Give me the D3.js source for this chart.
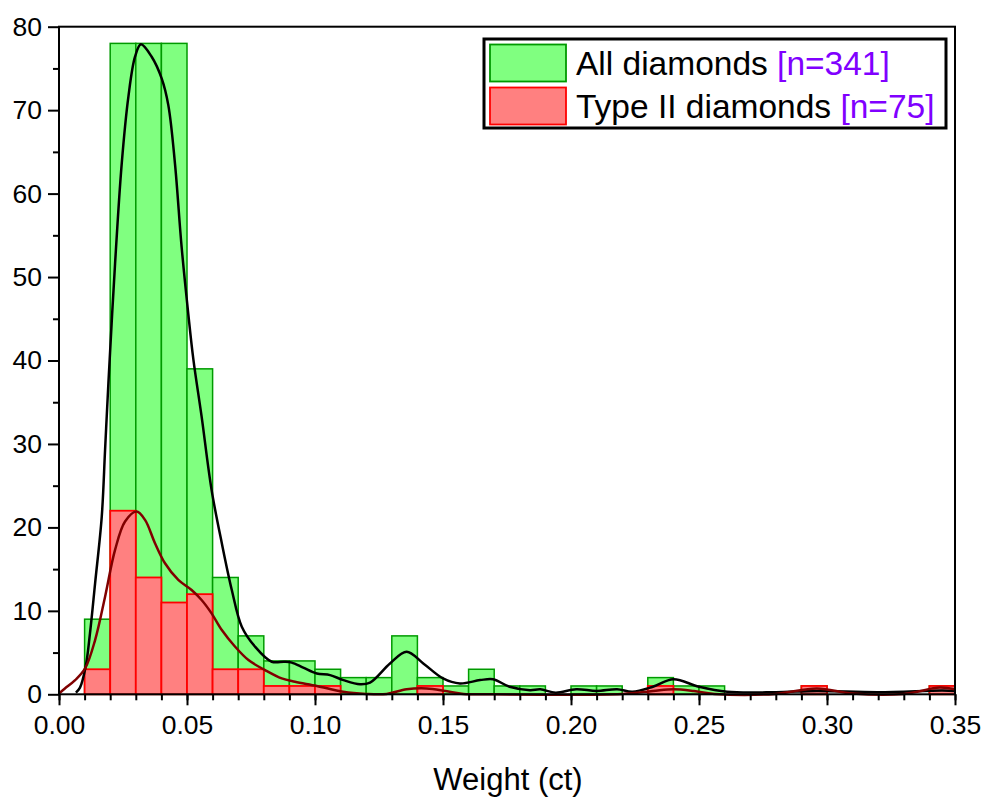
<!DOCTYPE html>
<html>
<head>
<meta charset="utf-8">
<script src="https://cdn.jsdelivr.net/npm/d3@7"></script>
<style>
  html, body { margin: 0; padding: 0; background: #fff; }
  svg { display: block; }
  text { font-family: "Liberation Sans", Arial, sans-serif; }
</style>
</head>
<body>
<svg id="chart" width="987" height="798"></svg>
<script>
// Histogram bins: each bin is [start, start + binWidth]
const binWidth = 0.01;
const binStarts = d3.range(0, 35).map(i => +(i * binWidth).toFixed(2));

// Counts per bin
const allCounts = [0, 9, 78, 78, 78, 39, 14, 7, 4, 4, 3, 2, 2, 7, 2, 1, 3, 1, 1, 0,
                   1, 1, 0, 2, 1, 1, 0, 0, 0, 1, 0, 0, 0, 0, 1];
const typeIICounts = [0, 3, 22, 14, 11, 12, 3, 3, 1, 1, 1, 0, 0, 0, 1, 0, 0, 0, 0, 0,
                      0, 0, 0, 1, 0, 0, 0, 0, 0, 1, 0, 0, 0, 0, 1];

// Smoothed density outlines (scaled to counts)
const allCurveX = [0.0066, 0.0082, 0.0104, 0.0121, 0.0141, 0.0167, 0.0180, 0.0193, 0.0219,
                   0.0245, 0.0271, 0.0297, 0.0320, 0.0362, 0.0401, 0.0427, 0.0453, 0.0479, 0.0505,
                   0.0525, 0.0557, 0.0596, 0.0636, 0.0675, 0.0714, 0.0766, 0.0831, 0.0880, 0.0909,
                   0.0954, 0.1007, 0.1059, 0.1111, 0.1176, 0.1215, 0.1293, 0.1358, 0.1423, 0.1500,
                   0.1566, 0.1645, 0.1696, 0.1760, 0.1840, 0.1880, 0.1940, 0.2020, 0.2100, 0.2180,
                   0.2240, 0.2320, 0.2400, 0.2500, 0.2610, 0.2800, 0.2960, 0.3200, 0.3450, 0.3500];
const allCurveY = [0.2, 0.8, 3.3, 7.3, 13.3, 21.3, 29.3, 37.3, 51.6,
                   63.6, 71.6, 76.4, 77.9, 76.4, 73.8, 70.6, 63.6, 53.6, 45.6,
                   40.1, 33.3, 24.5, 18.1, 12.5, 8.1, 5.7, 3.9, 3.9, 3.8,
                   3.2, 2.5, 2.3, 1.7, 1.2, 1.4, 3.7, 5.1, 3.7, 1.9,
                   1.3, 1.7, 1.8, 0.9, 0.5, 0.6, 0.2, 0.6, 0.4, 0.6,
                   0.3, 0.9, 1.8, 0.9, 0.3, 0.25, 0.4, 0.25, 0.45, 0.4];

const typeIICurveX = [0.0000, 0.0023, 0.0063, 0.0102, 0.0141, 0.0180, 0.0219, 0.0258, 0.0303, 0.0336,
                      0.0375, 0.0414, 0.0466, 0.0518, 0.0557, 0.0596, 0.0636, 0.0688, 0.0740, 0.0805,
                      0.0870, 0.0922, 0.1007, 0.1110, 0.1200, 0.1280, 0.1358, 0.1436, 0.1510, 0.1580,
                      0.1700, 0.2200, 0.2320, 0.2400, 0.2480, 0.2560, 0.2800, 0.2960, 0.3100, 0.3300,
                      0.3440, 0.3500];
const typeIICurveY = [0.1, 0.7, 1.7, 3.1, 6.5, 11.7, 17.3, 20.7, 21.9, 20.9,
                      18.1, 15.7, 13.7, 12.5, 11.3, 9.7, 7.7, 5.7, 4.1, 2.9,
                      1.9, 1.5, 1.0, 0.3, 0.05, 0.05, 0.6, 0.7, 0.4, 0.05,
                      0.0, 0.05, 0.4, 0.6, 0.4, 0.05, 0.05, 0.7, 0.1, 0.05,
                      0.8, 0.6];

// Axis ticks
const xTicks = [0, 0.05, 0.10, 0.15, 0.20, 0.25, 0.30, 0.35];
const xMinorTicks = d3.range(0, 36).map(i => +(i * 0.01).toFixed(2));
const yTicks = [0, 10, 20, 30, 40, 50, 60, 70, 80];
const yMinorTicks = [5, 15, 25, 35, 45, 55, 65, 75];

// Legend entries
const legendNames = ["All diamonds", "Type II diamonds"];
const legendCounts = ["[n=341]", "[n=75]"];

const svg = d3.select("#chart");
const plotLeft = 59, plotRight = 955, plotTop = 26.7, plotBottom = 694.3;

const x = d3.scaleLinear().domain([0, 0.35]).range([plotLeft, plotRight]);
const y = d3.scaleLinear().domain([0, 80]).range([plotBottom, plotTop]);

svg.append("rect").attr("width", 987).attr("height", 798).attr("fill", "#fff");

function drawBars(counts, fill, stroke, sw) {
  const data = binStarts.map((s, i) => ({ s, c: counts[i] })).filter(d => d.c > 0);
  svg.append("g").selectAll("rect").data(data).join("rect")
    .attr("x", d => x(d.s))
    .attr("y", d => y(d.c))
    .attr("width", d => x(d.s + binWidth) - x(d.s))
    .attr("height", d => y(0) - y(d.c))
    .attr("fill", fill)
    .attr("stroke", stroke)
    .attr("stroke-width", sw);
}
drawBars(allCounts, "#80ff80", "#009a00", 1.5);
drawBars(typeIICounts, "#ff8080", "#ff0000", 1.8);

const line = d3.line().x(d => x(d[0])).y(d => y(d[1])).curve(d3.curveCatmullRom.alpha(0.5));
svg.append("path")
  .attr("d", line(allCurveX.map((v, i) => [v, allCurveY[i]])))
  .attr("fill", "none").attr("stroke", "#000").attr("stroke-width", 2.5);
svg.append("path")
  .attr("d", line(typeIICurveX.map((v, i) => [v, typeIICurveY[i]])))
  .attr("fill", "none").attr("stroke", "#800000").attr("stroke-width", 2.5);

// Axes
const fmtX = d3.format(".2f");
const gx = svg.append("g").attr("transform", `translate(0,${plotBottom})`);
gx.call(d3.axisBottom(x).tickValues(xMinorTicks).tickSize(6).tickFormat(""));
gx.append("g").call(d3.axisBottom(x).tickValues(xTicks).tickSize(11).tickPadding(10).tickFormat(fmtX));

const gy = svg.append("g").attr("transform", `translate(${plotLeft},0)`);
gy.call(d3.axisLeft(y).tickValues(yMinorTicks).tickSize(6).tickFormat(""));
gy.append("g").call(d3.axisLeft(y).tickValues(yTicks).tickSize(11).tickPadding(6));

svg.selectAll(".domain").remove();
svg.selectAll(".tick line").attr("stroke", "#000").attr("stroke-width", 2);
svg.selectAll(".tick text").attr("font-size", 26.5).attr("fill", "#000")
  .attr("font-family", '"Liberation Sans", Arial, sans-serif');

// Frame
svg.append("rect")
  .attr("x", plotLeft).attr("y", plotTop)
  .attr("width", plotRight - plotLeft).attr("height", plotBottom - plotTop)
  .attr("fill", "none").attr("stroke", "#000").attr("stroke-width", 2);

// Axis title
svg.append("text")
  .attr("x", 508).attr("y", 790)
  .attr("text-anchor", "middle")
  .attr("font-size", 31)
  .text("Weight (ct)");

// Legend
const lg = svg.append("g");
lg.append("rect")
  .attr("x", 484).attr("y", 39).attr("width", 462).attr("height", 89)
  .attr("fill", "#fff").attr("stroke", "#000").attr("stroke-width", 3);
const swFill = ["#80ff80", "#ff8080"];
const swStroke = ["#009a00", "#ff0000"];
const rowY = [44.5, 87.5];
legendNames.forEach((name, i) => {
  lg.append("rect")
    .attr("x", 490).attr("y", rowY[i]).attr("width", 76).attr("height", 37)
    .attr("fill", swFill[i]).attr("stroke", swStroke[i]).attr("stroke-width", 1.8);
  const t = lg.append("text")
    .attr("x", 576).attr("y", rowY[i] + 30.5)
    .attr("font-size", 33.5).attr("fill", "#000");
  t.append("tspan").text(name + " ");
  t.append("tspan").attr("fill", "#8000ff").text(legendCounts[i]);
});
</script>
</body>
</html>
